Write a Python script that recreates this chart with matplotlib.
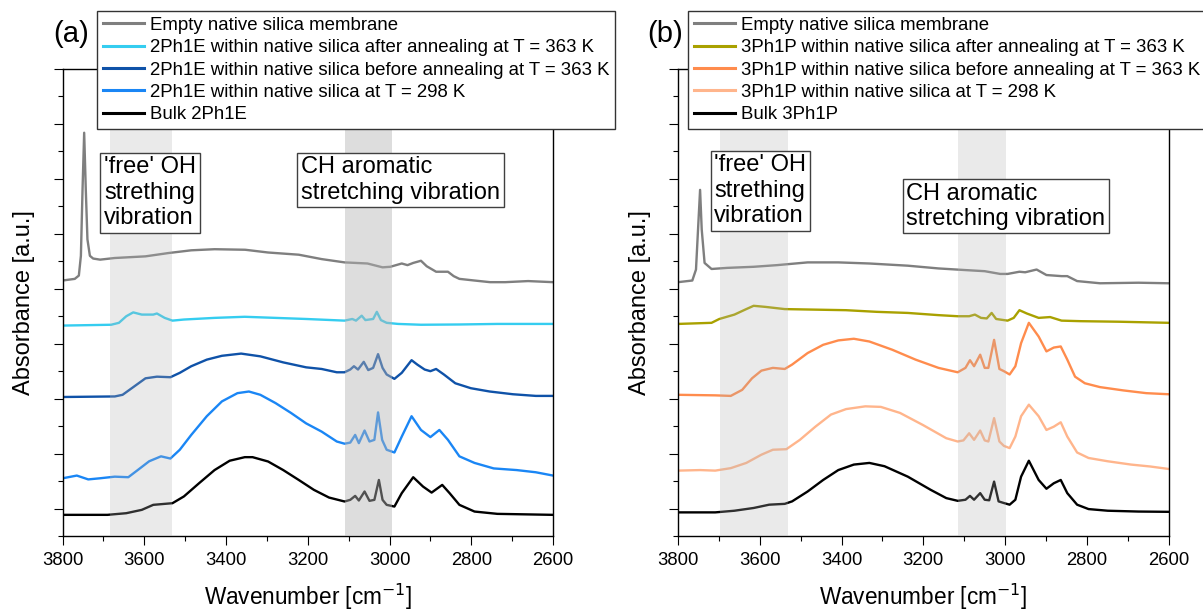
import numpy as np
import matplotlib
matplotlib.use('Agg')
import matplotlib.pyplot as plt

plt.rcParams['font.family'] = ['Liberation Sans', 'DejaVu Sans']

# ---- panel (a): 2Ph1E ----
gray_a_wn = [3800, 3770, 3760, 3755, 3751, 3747, 3743, 3739, 3733, 3725,
             3708, 3672, 3597, 3541, 3485, 3428, 3353, 3297, 3222, 3166,
             3110, 3054, 3017, 2998, 2970, 2956, 2942, 2923, 2909, 2886,
             2857, 2843, 2829, 2792, 2754, 2717, 2661, 2600]
gray_a = [4.15, 4.18, 4.24, 4.6, 5.8, 6.84, 5.8, 4.9, 4.6, 4.55,
          4.53, 4.56, 4.59, 4.65, 4.70, 4.72, 4.71, 4.66, 4.62, 4.54,
          4.48, 4.46, 4.39, 4.40, 4.46, 4.43, 4.47, 4.51, 4.41, 4.31,
          4.31, 4.23, 4.18, 4.15, 4.12, 4.12, 4.14, 4.12]

cyan_a_wn = [3800, 3681, 3662, 3644, 3627, 3606, 3578, 3569, 3550, 3531,
             3503, 3428, 3354, 3279, 3204, 3110, 3091, 3082, 3068, 3059,
             3040, 3031, 3021, 3007, 2979, 2923, 2829, 2736, 2600]
cyan_a = [3.33, 3.345, 3.38, 3.50, 3.57, 3.53, 3.53, 3.55, 3.47, 3.42,
          3.44, 3.47, 3.49, 3.47, 3.45, 3.42, 3.45, 3.42, 3.51, 3.43,
          3.45, 3.58, 3.43, 3.38, 3.36, 3.345, 3.35, 3.36, 3.36]

dblue_a_wn = [3800, 3672, 3653, 3625, 3597, 3569, 3536, 3513, 3485, 3447,
              3410, 3363, 3316, 3260, 3204, 3166, 3129, 3110, 3096, 3087,
              3077, 3063, 3052, 3040, 3028, 3017, 3007, 2988, 2970, 2946,
              2932, 2914, 2900, 2886, 2867, 2839, 2801, 2755, 2698, 2642, 2600]
dblue_a = [2.03, 2.04, 2.07, 2.22, 2.37, 2.40, 2.39, 2.47, 2.59, 2.71,
           2.78, 2.82, 2.77, 2.66, 2.57, 2.54, 2.48, 2.48, 2.53, 2.59,
           2.53, 2.67, 2.52, 2.56, 2.81, 2.56, 2.44, 2.36, 2.47, 2.70,
           2.62, 2.53, 2.50, 2.54, 2.44, 2.28, 2.19, 2.13, 2.08, 2.05, 2.05]

mblue_a_wn = [3800, 3765, 3737, 3709, 3672, 3639, 3616, 3588, 3559, 3536,
              3513, 3485, 3447, 3410, 3372, 3344, 3316, 3279, 3241, 3204,
              3166, 3129, 3110, 3096, 3084, 3075, 3061, 3049, 3037, 3028,
              3018, 3007, 2988, 2970, 2946, 2923, 2900, 2878, 2857, 2829,
              2792, 2745, 2689, 2642, 2600]
mblue_a = [0.55, 0.60, 0.53, 0.55, 0.58, 0.57, 0.70, 0.86, 0.95, 0.91,
           1.07, 1.34, 1.68, 1.95, 2.10, 2.13, 2.07, 1.92, 1.74, 1.55,
           1.40, 1.22, 1.18, 1.20, 1.34, 1.19, 1.42, 1.22, 1.25, 1.75,
           1.25, 1.07, 1.02, 1.31, 1.68, 1.43, 1.30, 1.43, 1.25, 0.95,
           0.83, 0.73, 0.70, 0.66, 0.60]

black_a_wn = [3800, 3690, 3644, 3606, 3578, 3550, 3531, 3503, 3466, 3428,
              3391, 3354, 3335, 3297, 3260, 3222, 3185, 3148, 3110, 3096,
              3084, 3075, 3061, 3049, 3037, 3026, 3017, 3007, 2988, 2970,
              2942, 2918, 2897, 2871, 2853, 2829, 2792, 2736, 2600]
black_a = [-0.115, -0.115, -0.085, -0.024, 0.067, 0.085, 0.097, 0.22, 0.46, 0.70,
           0.87, 0.935, 0.935, 0.856, 0.70, 0.52, 0.34, 0.20, 0.128, 0.158,
           0.23, 0.146, 0.31, 0.14, 0.158, 0.52, 0.158, 0.067, 0.036, 0.28,
           0.57, 0.40, 0.29, 0.43, 0.28, 0.067, -0.055, -0.097, -0.115]

# ---- panel (b): 3Ph1P ----
gray_b_wn = [3800, 3765, 3756, 3751, 3746, 3742, 3735, 3718, 3680, 3615,
             3558, 3483, 3408, 3332, 3238, 3163, 3097, 3050, 3012, 2994,
             2965, 2951, 2923, 2899, 2862, 2848, 2824, 2768, 2674, 2600]
gray_b = [4.12, 4.15, 4.35, 5.08, 5.80, 5.08, 4.47, 4.36, 4.38, 4.40,
          4.43, 4.48, 4.48, 4.46, 4.42, 4.37, 4.34, 4.32, 4.27, 4.27,
          4.31, 4.30, 4.35, 4.25, 4.23, 4.23, 4.14, 4.10, 4.11, 4.10]

olive_b_wn = [3800, 3718, 3699, 3662, 3633, 3615, 3586, 3539, 3464, 3389,
              3314, 3238, 3163, 3116, 3088, 3074, 3059, 3045, 3033, 3022,
              2994, 2979, 2965, 2947, 2918, 2890, 2862, 2815, 2721, 2600]
olive_b = [3.36, 3.38, 3.45, 3.53, 3.63, 3.69, 3.67, 3.63, 3.62, 3.61,
           3.58, 3.56, 3.52, 3.50, 3.50, 3.53, 3.47, 3.46, 3.56, 3.45,
           3.42, 3.47, 3.61, 3.55, 3.47, 3.485, 3.42, 3.41, 3.40, 3.38]

orange_b_wn = [3800, 3709, 3671, 3643, 3619, 3596, 3568, 3539, 3521, 3483,
               3445, 3408, 3370, 3332, 3276, 3219, 3163, 3116, 3097, 3086,
               3076, 3061, 3050, 3041, 3027, 3014, 3003, 2989, 2975, 2961,
               2942, 2918, 2899, 2881, 2864, 2848, 2829, 2805, 2768, 2711,
               2655, 2600]
orange_b = [2.07, 2.06, 2.05, 2.16, 2.37, 2.51, 2.56, 2.54, 2.62, 2.83,
            2.98, 3.06, 3.09, 3.04, 2.89, 2.71, 2.56, 2.48, 2.56, 2.70,
            2.59, 2.80, 2.56, 2.56, 3.07, 2.54, 2.50, 2.44, 2.59, 3.01,
            3.38, 3.13, 2.86, 2.93, 2.95, 2.71, 2.40, 2.28, 2.21, 2.15,
            2.10, 2.08]

lorange_b_wn = [3800, 3746, 3709, 3671, 3633, 3596, 3568, 3535, 3502, 3464,
                3426, 3389, 3342, 3304, 3257, 3201, 3144, 3116, 3102, 3088,
                3076, 3061, 3050, 3041, 3027, 3014, 3003, 2989, 2975, 2961,
                2942, 2918, 2899, 2881, 2864, 2848, 2824, 2796, 2749, 2692,
                2645, 2600]
lorange_b = [0.69, 0.70, 0.69, 0.735, 0.83, 0.98, 1.07, 1.08, 1.25, 1.49,
             1.71, 1.81, 1.86, 1.85, 1.74, 1.52, 1.28, 1.22, 1.24, 1.37,
             1.25, 1.42, 1.24, 1.22, 1.645, 1.22, 1.14, 1.10, 1.31, 1.68,
             1.89, 1.68, 1.43, 1.49, 1.57, 1.31, 1.02, 0.92, 0.86, 0.80,
             0.765, 0.72]

black_b_wn = [3800, 3709, 3662, 3615, 3577, 3539, 3521, 3483, 3445, 3408,
              3370, 3332, 3295, 3238, 3182, 3144, 3116, 3097, 3086, 3076,
              3061, 3050, 3039, 3027, 3016, 3003, 2989, 2975, 2961, 2942,
              2918, 2899, 2881, 2864, 2848, 2824, 2796, 2749, 2674, 2600]
black_b = [-0.07, -0.07, -0.04, 0.01, 0.07, 0.085, 0.13, 0.31, 0.52, 0.70,
           0.80, 0.83, 0.77, 0.58, 0.34, 0.19, 0.14, 0.16, 0.23, 0.16,
           0.28, 0.16, 0.15, 0.49, 0.13, 0.10, 0.07, 0.16, 0.58, 0.87,
           0.52, 0.36, 0.46, 0.52, 0.28, 0.07, -0.01, -0.04, -0.055, -0.06]

series_a = [
    (gray_a_wn, gray_a, '#7f7f7f', 'Empty native silica membrane'),
    (cyan_a_wn, cyan_a, '#35cdf0', '2Ph1E within native silica after annealing at T = 363 K'),
    (dblue_a_wn, dblue_a, '#0f52a8', '2Ph1E within native silica before annealing at T = 363 K'),
    (mblue_a_wn, mblue_a, '#1a86f5', '2Ph1E within native silica at T = 298 K'),
    (black_a_wn, black_a, '#000000', 'Bulk 2Ph1E'),
]
series_b = [
    (gray_b_wn, gray_b, '#7f7f7f', 'Empty native silica membrane'),
    (olive_b_wn, olive_b, '#a9a100', '3Ph1P within native silica after annealing at T = 363 K'),
    (orange_b_wn, orange_b, '#ff8c4d', '3Ph1P within native silica before annealing at T = 363 K'),
    (lorange_b_wn, lorange_b, '#ffb58c', '3Ph1P within native silica at T = 298 K'),
    (black_b_wn, black_b, '#000000', 'Bulk 3Ph1P'),
]

# shaded regions (wavenumber ranges, alpha)
bands_a = [(3685, 3533, 0.27), (3110, 2995, 0.45)]
bands_b = [(3697, 3532, 0.27), (3115, 2998, 0.27)]

W, H = 1203, 610
fig = plt.figure(figsize=(W / 100, H / 100), dpi=100)
ax_a = fig.add_axes([62.5 / W, 1 - 536 / H, 490.5 / W, 467 / H])
ax_b = fig.add_axes([678 / W, 1 - 536 / H, 490.7 / W, 467 / H])


def draw_panel(ax, series, bands, leg_x):
    for wn, val, col, lab in series:
        ax.plot(wn, val, color=col, lw=1.7, label=lab, zorder=2)
    for lo, hi, al in bands:
        ax.axvspan(lo, hi, color='#b4b4b4', alpha=al, lw=0, zorder=3)
    ax.set_xlim(3800, 2600)
    ax.set_ylim(-0.5, 8)
    ax.set_xticks(np.arange(2600, 3801, 200))
    ax.set_xticks(np.arange(2600, 3801, 100), minor=True)
    ax.set_yticks(np.arange(0, 9, 1))
    ax.set_yticks(np.arange(-0.5, 8, 0.5), minor=True)
    ax.set_yticklabels([])
    ax.tick_params(direction='out', length=6.5, width=0.8, labelsize=13.3, pad=5)
    ax.tick_params(which='minor', direction='out', length=3.3, width=0.8)
    for s in ax.spines.values():
        s.set_linewidth(1.0)
    ax.set_xlabel('Wavenumber [cm$^{-1}$]', fontsize=16.3)
    ax.set_ylabel('Absorbance [a.u.]', fontsize=17)
    ax.xaxis.set_label_coords(0.5, -0.098)
    ax.yaxis.set_label_coords(-0.056, 0.5)
    leg = ax.legend(loc='upper left', bbox_to_anchor=(leg_x, 1.124), borderaxespad=0,
                    fontsize=13.4, frameon=True, fancybox=False, framealpha=1,
                    edgecolor='#333333', handlelength=2.2, handletextpad=0.35,
                    labelspacing=0.29, borderpad=0.3)
    leg.get_frame().set_linewidth(1.0)
    for ln in leg.get_lines():
        ln.set_linewidth(2.2)
    leg.set_zorder(6)


draw_panel(ax_a, series_a, bands_a, 0.0703)
draw_panel(ax_b, series_b, bands_b, 0.0204)

box = dict(boxstyle='square,pad=0.15', fc='white', ec='#404040', lw=1.0)
notes = [
    (104, 156.5, "'free' OH\nstrething\nvibration"),
    (301, 156.5, 'CH aromatic\nstretching vibration'),
    (714.3, 154.2, "'free' OH\nstrething\nvibration"),
    (906.5, 182.5, 'CH aromatic\nstretching vibration'),
]
for x, y, t in notes:
    fig.text(x / W, 1 - y / H, t, fontsize=17, ha='left', va='top',
             linespacing=1.2, bbox=box, zorder=4)

fig.text(53 / W, 1 - 34 / H, '(a)', fontsize=21, ha='left', va='center')
fig.text(647 / W, 1 - 34 / H, '(b)', fontsize=21, ha='left', va='center')

fig.savefig('out.png', dpi=100)
